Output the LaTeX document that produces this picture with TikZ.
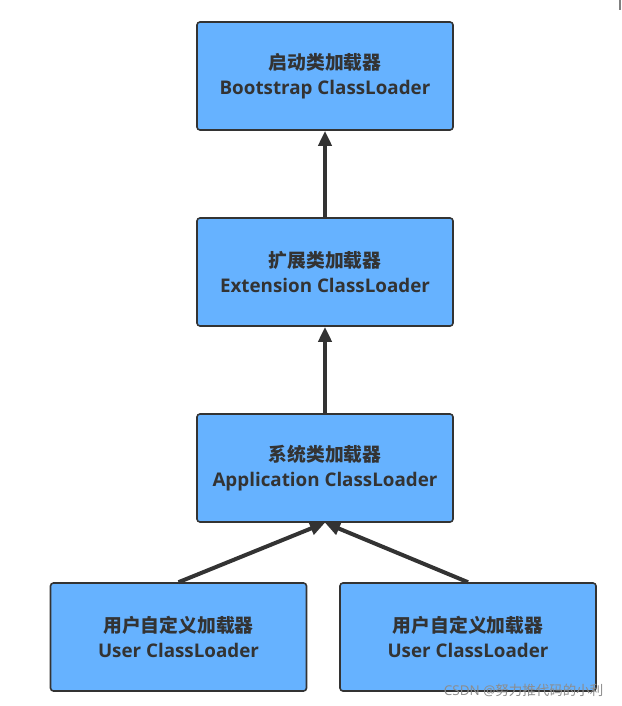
\documentclass[tikz,border=0pt]{standalone}
\usepackage{fontspec}
\setmainfont{Open Sans}
\newfontfamily\cjkfont{Noto Sans CJK SC}
\usetikzlibrary{arrows.meta}
\definecolor{boxfill}{HTML}{66B2FF}
\definecolor{ink}{HTML}{333333}
\tikzset{
  loader/.style={draw=ink, line width=1.6pt, fill=boxfill, rounded corners=3pt,
    minimum width=256pt, minimum height=108pt, align=center, text=ink,
    font=\fontsize{18.8}{25}\selectfont\bfseries},
  link/.style={draw=ink, line width=4pt, -{Triangle[length=15pt,width=13pt]}}
}
\newcommand{\cjkline}[1]{{\cjkfont\fontsize{18.8}{25}\selectfont\bfseries #1}}
\begin{document}
\begin{tikzpicture}[x=1pt,y=-1pt]
\useasboundingbox (0,0) rectangle (621,706);
\node[loader] (boot) at (325,76) {\cjkline{启动类加载器}\\Bootstrap ClassLoader};
\node[loader] (ext) at (325,272) {\cjkline{扩展类加载器}\\Extension ClassLoader};
\node[loader] (app) at (325,468) {\cjkline{系统类加载器}\\Application ClassLoader};
\node[loader] (u1) at (178.5,637) {\cjkline{用户自定义加载器}\\User ClassLoader};
\node[loader] (u2) at (468,637) {\cjkline{用户自定义加载器}\\User ClassLoader};
\draw[link] (ext.north) -- (boot.south);
\draw[link] (app.north) -- (ext.south);
\draw[link] (u1.north) -- (app.south);
\draw[link] (u2.north) -- (app.south);
\node[anchor=east, text=gray!90, font=\fontsize{13.5}{15}\selectfont] (wm) at (607,690) {CSDN @{\cjkfont 努力推代码的小利}};
\draw[gray, line width=1.5pt] (620,0) -- (620,10);
\end{tikzpicture}
\end{document}
